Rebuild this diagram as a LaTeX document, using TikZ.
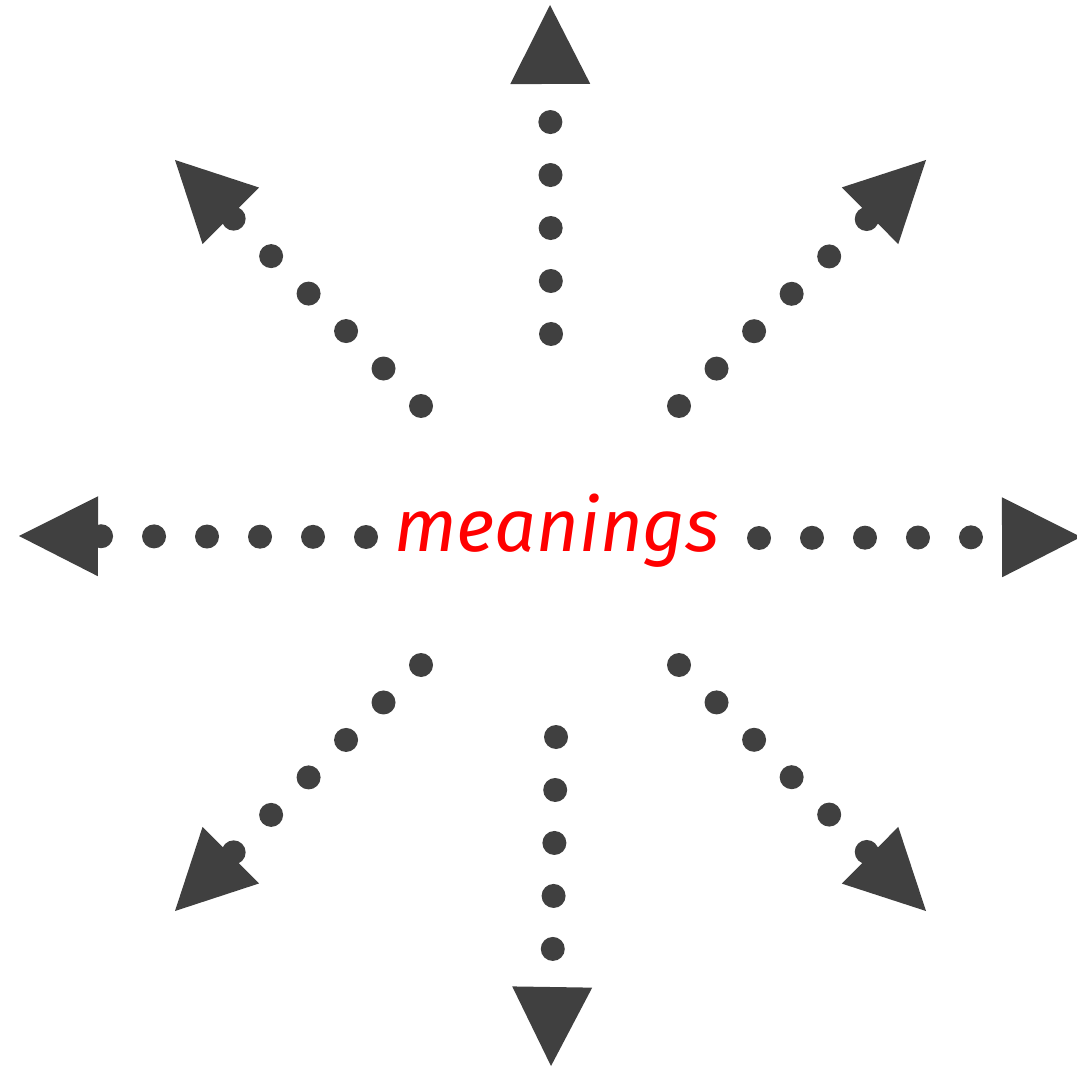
\documentclass[tikz,border=0pt]{standalone}
\usepackage{fontspec}
\usepackage{tikz}
\usetikzlibrary{positioning,calc}
\newfontfamily\handfont{Fira Sans}
\definecolor{inkgrey}{HTML}{404040}
\definecolor{wordred}{HTML}{FF0000}

\begin{document}
\begin{tikzpicture}[x=0.02cm,y=0.02cm,
  dotline/.style={draw=inkgrey, line width=0.48cm, line cap=round, dash pattern=on 0pt off 1.06cm},
  headfill/.style={fill=inkgrey}]
\useasboundingbox (0,0) rectangle (1077,1069);
\node[text=wordred, font=\handfont\itshape\fontsize{42}{48}\selectfont, anchor=base] (word) at (557,518) {meanings};
% eight dotted arrows, start -> tip
\foreach \sx/\sy/\tx/\ty [count=\i] in {551/735/550/1064, 556/332/551/3, 366/532/19/533, 759/531/1081/532,
    421/663/175/909, 679/663/926/909, 421/404/175/158, 679/404/926/158}{
  \coordinate (s\i) at (\sx,\sy);
  \coordinate (t\i) at (\tx,\ty);
  \coordinate (b\i) at ($(t\i)!1.58cm!(s\i)$);
  \draw[dotline] (s\i) -- (b\i);
  \fill[headfill] (t\i) -- ($(b\i)!0.8cm!90:(t\i)$) -- ($(b\i)!0.8cm!-90:(t\i)$) -- cycle;
}
\end{tikzpicture}
\end{document}
